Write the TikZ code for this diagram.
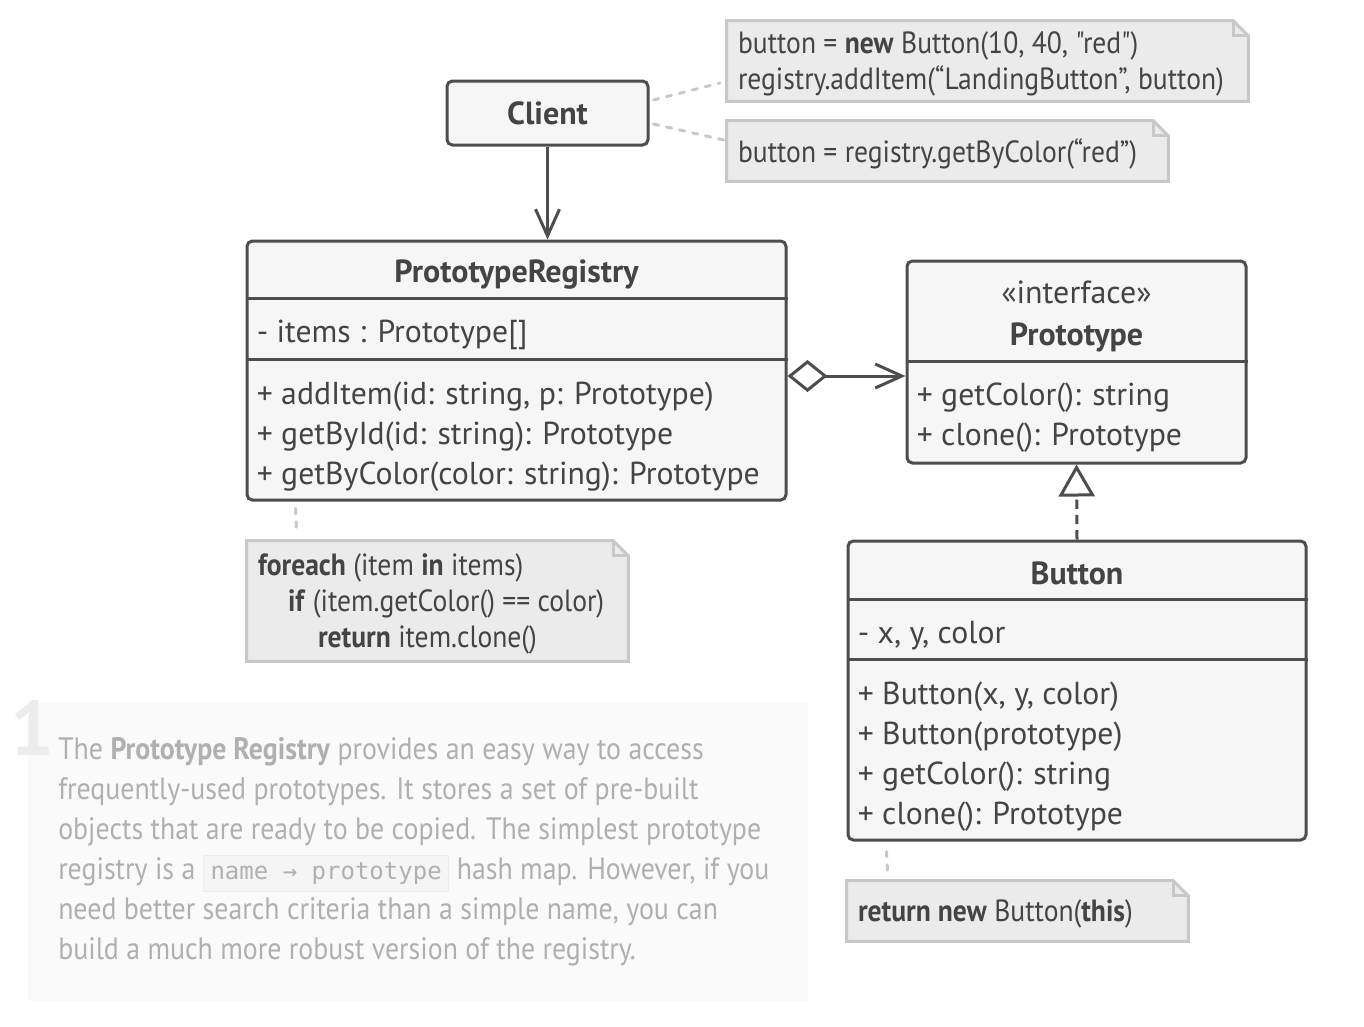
\documentclass[tikz,border=0pt]{standalone}
\usepackage{fontspec}
\setmainfont{PT Sans}
\newfontfamily\notefont[FakeStretch=0.9]{PT Sans}
\setmonofont{DejaVu Sans Mono}
\usetikzlibrary{arrows.meta, positioning, calc, backgrounds}

\definecolor{LineGray}{RGB}{77,77,77}
\definecolor{BoxFill}{RGB}{246,246,246}
\definecolor{TextDark}{RGB}{68,68,68}
\definecolor{NoteFill}{RGB}{235,235,235}
\definecolor{NoteEdge}{RGB}{200,200,200}
\definecolor{PanelFill}{RGB}{250,250,250}
\definecolor{NumGray}{RGB}{236,236,236}
\definecolor{DescGray}{RGB}{176,176,176}
\definecolor{CodeFill}{RGB}{245,245,245}
\definecolor{CodeEdge}{RGB}{236,236,236}

\tikzset{
  classbox/.style={draw=LineGray, fill=BoxFill, line width=2.25pt, rounded corners=4pt, inner sep=0pt},
  classtitle/.style={inner sep=0pt, text=TextDark, align=center, font=\bfseries\fontsize{24}{31.5}\selectfont},
  member/.style={inner sep=0pt, anchor=west, text=TextDark, align=left, font=\fontsize{23.8}{30}\selectfont},
  sepline/.style={draw=LineGray, line width=2.25pt},
  notebox/.style={inner sep=0pt},
  notetext/.style={inner sep=0pt, anchor=west, align=left, text=TextDark,
                   font=\notefont\fontsize{23}{27}\selectfont},
  notelink/.style={draw=NoteEdge, line width=2.25pt, line cap=round, dash pattern=on 4pt off 6pt},
  assoc/.style={draw=LineGray, line width=2.25pt, -{Straight Barb[length=20pt, width=18pt]}},
  aggr/.style={assoc, {Diamond[length=30pt, width=24pt, fill=white]}-{Straight Barb[length=20pt, width=18pt]}},
  realize/.style={draw=LineGray, line width=2.25pt, dash pattern=on 7pt off 4.5pt,
                  -{Triangle[open, length=24pt, width=27pt, fill=white]}},
}

\begin{document}
\begin{tikzpicture}[x=0.75pt, y=-0.75pt]
  \useasboundingbox (0,0) rectangle (1364,1026);

  % classes
  \node[classbox, minimum width=150.75pt, minimum height=48pt] (client) at (547.5,113) {};
  \node[classtitle] (clientname) at (client) {Client};

  \node[classbox, minimum width=404.25pt, minimum height=194.25pt] (registry) at (516.5,370.5) {};
  \node[classtitle] (regname) at ($(registry.north)+(0,35)$) {PrototypeRegistry};
  \draw[sepline] ($(registry.north west)+(0,59)$) -- ($(registry.north east)+(0,59)$);
  \node[member] (regattr) at ($(registry.north west)+(11,95)$) {- items : Prototype[]};
  \draw[sepline] ($(registry.north west)+(0,120)$) -- ($(registry.north east)+(0,120)$);
  \node[member] (regops) at ($(registry.north west)+(11,197)$)
    {+ addItem(id: string, p: Prototype)\\+ getById(id: string): Prototype\\+ getByColor(color: string): Prototype};

  \node[classbox, minimum width=254.25pt, minimum height=151.5pt] (proto) at (1076.5,362) {};
  \node[classtitle] (protoname) at ($(proto.north)+(0,57)$) {\mdseries«interface»\\Prototype};
  \draw[sepline] ($(proto.north west)+(0,102)$) -- ($(proto.north east)+(0,102)$);
  \node[member] (protoops) at ($(proto.north west)+(11,158)$)
    {+ getColor(): string\\+ clone(): Prototype};

  \node[classbox, minimum width=343.5pt, minimum height=224.25pt] (button) at (1077,690.5) {};
  \node[classtitle] (buttonname) at ($(button.north)+(0,34)$) {Button};
  \draw[sepline] ($(button.north west)+(0,60)$) -- ($(button.north east)+(0,60)$);
  \node[member] (buttonattr) at ($(button.north west)+(11,96)$) {- x, y, color};
  \draw[sepline] ($(button.north west)+(0,120)$) -- ($(button.north east)+(0,120)$);
  \node[member] (buttonops) at ($(button.north west)+(11,217)$)
    {+ Button(x, y, color)\\+ Button(prototype)\\+ getColor(): string\\+ clone(): Prototype};

  % notes
  \node[notebox, minimum width=390.75pt, minimum height=60pt] (note1) at (987.5,61) {};
  \node[notetext] (note1text) at ($(note1.west)+(11,3)$)
    {button = \textbf{new} Button(10, 40, "red")\\registry.addItem(“LandingButton”, button)};
  \node[notebox, minimum width=330.75pt, minimum height=45pt] (note2) at (947.5,151) {};
  \node[notetext] (note2text) at ($(note2.west)+(11,3)$)
    {button = registry.getByColor(“red”)};
  \node[notebox, minimum width=285.75pt, minimum height=90pt] (note3) at (437.5,601) {};
  \node[notetext] (note3text) at ($(note3.west)+(11,3)$)
    {\textbf{foreach} (item \textbf{in} items)\\
     \hspace*{22.5pt}\textbf{if} (item.getColor() == color)\\
     \hspace*{45pt}\textbf{return} item.clone()};
  \node[notebox, minimum width=255.75pt, minimum height=45pt] (note4) at (1017.5,911) {};
  \node[notetext] (note4text) at ($(note4.west)+(11,3)$)
    {\textbf{return new} Button(\textbf{this})};

  \begin{scope}[on background layer]
    \fill[PanelFill] (28,703) rectangle (808,1001);
    \foreach \n in {note1, note2, note3, note4} {
      \draw[draw=NoteEdge, fill=NoteFill, line width=2.25pt, line join=miter]
        (\n.south west) -- (\n.north west) -- ($(\n.north east)+(-15,0)$)
        -- ($(\n.north east)+(0,15)$) -- (\n.south east) -- cycle;
      \draw[draw=NoteEdge, line width=2.25pt]
        ($(\n.north east)+(-15,0)$) -- ($(\n.north east)+(-15,15)$) -- ($(\n.north east)+(0,15)$);
    }
  \end{scope}

  % connectors
  \draw[assoc] (client.south) -- (client.south |- registry.north);
  \draw[aggr] ($(registry.east)+(0,5.5)$) -- ($(proto.west)+(0,14)$);
  \draw[realize] (button.north) -- (proto.south);
  \draw[notelink] ($(client.east)+(4,-13)$) -- ($(note1.west)+(-7,22)$);
  \draw[notelink] ($(client.east)+(4,11)$) -- ($(note2.west)+(-3,-11)$);
  \draw[notelink] ($(registry.south west)+(50,7)$) -- ($(note3.north west)+(50,-6)$);
  \draw[notelink] ($(button.south west)+(40,10)$) -- ($(note4.north west)+(41,-6)$);

  % description
  \node[anchor=north west, inner sep=0pt, text=NumGray, font=\bfseries\fontsize{58}{58}\selectfont] (num) at (10,700) {1};
  \node[anchor=north west, inner sep=0pt, text=DescGray, align=left,
        font=\notefont\fontsize{23.2}{30}\selectfont] (desc) at (58,737)
    {The \textbf{Prototype Registry} provides an easy way to access\\
     frequently-used prototypes. It stores a set of pre-built\\
     objects that are ready to be copied. The simplest prototype\\
     registry is a \smash{\setlength\fboxsep{5pt}\setlength\fboxrule{0.75pt}\fcolorbox{CodeEdge}{CodeFill}{\ttfamily\fontsize{18}{20}\selectfont name → prototype}} hash map. However, if you\\
     need better search criteria than a simple name, you can\\
     build a much more robust version of the registry.};
\end{tikzpicture}
\end{document}
